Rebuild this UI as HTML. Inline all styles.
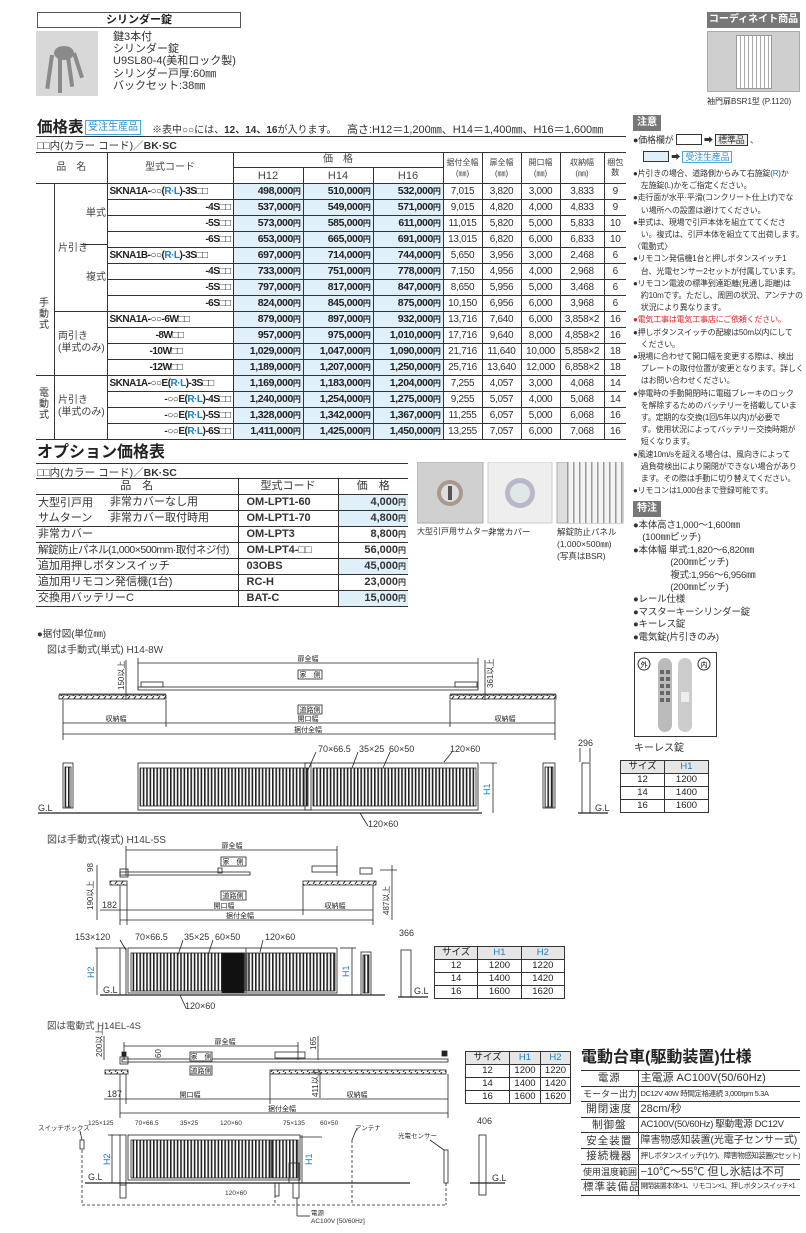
<!DOCTYPE html>
<html><head><meta charset="utf-8">
<style>
*{margin:0;padding:0;box-sizing:border-box}
body{width:806px;height:1233px;background:#fff;position:relative;overflow:hidden;font-family:"Liberation Sans","Noto Sans CJK JP",sans-serif;color:#222}
.a{position:absolute;white-space:nowrap}
table{border-collapse:collapse;table-layout:fixed;position:absolute}
td{padding:0 2px;white-space:nowrap;overflow:hidden}
#pt td{border-top:1px solid #333;border-bottom:1px solid #333;border-left:1px solid #333;height:15.65px;font-size:10px;line-height:14px}
#pt tr.h td{font-size:10px;text-align:center;color:#444;height:14px}
#pt .p{background:#dff0fb;text-align:right;font-weight:bold;letter-spacing:-.4px;font-size:10.5px}
#pt .c{text-align:right;font-weight:bold;letter-spacing:-.5px}
#pt .n{text-align:center;font-size:10px;color:#333;letter-spacing:-.3px}
.y{font-size:8px}
.b{color:#1a7fc8}
#ot td{border-top:1px solid #333;border-bottom:1px solid #333;height:16px;font-size:11px;line-height:15px;color:#333}
#ot .v{border-left:1px solid #333}
#ot .p{background:#dff0fb;text-align:right;font-weight:bold;font-size:11px}
#ot .w{text-align:right;font-weight:bold}
#ot .k{font-weight:bold;font-size:11px;padding-left:8px}
.sz td{border:1px solid #333;text-align:center;font-size:9.5px;height:13px;line-height:12px}
.sz .g{background:#e6e6e6}
#sp td{border-top:1px solid #333;border-bottom:1px solid #333;height:15.6px;font-size:10.5px;line-height:14px;color:#333}
#sp td:first-child{text-align:center;border-right:1px solid #333;letter-spacing:1px}
.nt{position:absolute;left:633px;font-size:8px;line-height:12.2px;color:#333;white-space:nowrap;letter-spacing:-.2px}
.hb{position:absolute;background:#777;color:#fff;font-size:10px;font-weight:bold;padding:1px 4px;line-height:14px}
</style></head><body>

<!-- top -->
<div class="a" style="left:37px;top:12px;width:204px;height:16px;border:1px solid #555;text-align:center;font-size:11px;font-weight:bold;line-height:14px">シリンダー錠</div>
<div class="a" style="left:36px;top:31px;width:62px;height:65px;background:#d8d8d8"></div>
<svg class="a" style="left:36px;top:31px" width="62" height="65"><g fill="#8a8a8a"><ellipse cx="28" cy="22" rx="10" ry="7"/><rect x="14" y="24" width="4" height="34" transform="rotate(8 16 24)"/><rect x="22" y="26" width="4" height="36"/><rect x="30" y="26" width="4" height="30" transform="rotate(-8 32 26)"/><rect x="36" y="22" width="4" height="26" transform="rotate(-18 38 22)"/></g></svg>
<div class="a" style="left:113px;top:31px;font-size:11px;line-height:12.2px;color:#333">鍵3本付<br>シリンダー錠<br>U9SL80-4(美和ロック製)<br>シリンダー戸厚:60㎜<br>バックセット:38㎜</div>
<div class="a" style="left:707px;top:12px;width:93px;height:16px;background:#777;color:#fff;font-size:10px;font-weight:bold;text-align:center;line-height:16px">コーディネイト商品</div>
<div class="a" style="left:707px;top:31px;width:93px;height:61px;background:#cfcfcf;border:1px solid #aaa"></div>
<div class="a" style="left:736px;top:35px;width:36px;height:54px;background:#eee;border:1px solid #999;background-image:repeating-linear-gradient(90deg,#fff 0 3px,#aaa 3px 4px)"></div>
<div class="a" style="left:707px;top:96px;font-size:8px;color:#333">袖門扉BSR1型 (P.1120)</div>

<!-- price title -->
<div class="a" style="left:37px;top:118px;font-size:15.5px;font-weight:bold;line-height:20px">価格表</div>
<div class="a" style="left:85px;top:120px;border:1px solid #4aa8de;color:#2a90d0;font-size:10px;padding:0 2px;line-height:13px">受注生産品</div>
<div class="a" style="left:152px;top:121px;font-size:10px;color:#333">※表中○○には、<b>12、14、16</b>が入ります。</div>
<div class="a" style="left:347px;top:121px;font-size:11px;color:#333">高さ:H12＝1,200㎜、H14＝1,400㎜、H16＝1,600㎜</div>
<div class="a" style="left:36px;top:136px;width:590px;border-top:1px solid #333"></div>
<div class="a" style="left:37px;top:138px;font-size:10.5px;color:#333">□□内(カラー コード)／<b>BK·SC</b></div>

<table id="pt" style="left:36px;top:152px;width:590px;border-top:1.5px solid #333">
<colgroup><col style="width:18px"><col style="width:53px"><col style="width:126px"><col style="width:70px"><col style="width:70px"><col style="width:70px"><col style="width:39px"><col style="width:39px"><col style="width:39px"><col style="width:44px"><col style="width:22px"></colgroup>
<tr class="h"><td colspan="2" rowspan="2" style="border-left:none">品　名</td><td rowspan="2">型式コード</td><td colspan="3">価　格</td><td rowspan="2" style="font-size:8px;line-height:11px">据付全幅<br>(㎜)</td><td rowspan="2" style="font-size:8px;line-height:11px">扉全幅<br>(㎜)</td><td rowspan="2" style="font-size:8px;line-height:11px">開口幅<br>(㎜)</td><td rowspan="2" style="font-size:8px;line-height:11px">収納幅<br>(㎜)</td><td rowspan="2" style="font-size:8px;line-height:10px;padding:0">梱包<br>数</td></tr>
<tr class="h"><td style="font-size:11px;height:16px">H12</td><td style="font-size:11px">H14</td><td style="font-size:11px">H16</td></tr>
<tr><td rowspan="12" style="border-left:none"></td><td rowspan="8"></td><td class="c" style="text-align:left">SKNA1A-○○(<span class="b">R·L</span>)-3S□□</td><td class="p">498,000<span class="y">円</span></td><td class="p">510,000<span class="y">円</span></td><td class="p">532,000<span class="y">円</span></td><td class="n">7,015</td><td class="n">3,820</td><td class="n">3,000</td><td class="n">3,833</td><td class="n">9</td></tr>
<tr><td class="c">-4S□□</td><td class="p">537,000<span class="y">円</span></td><td class="p">549,000<span class="y">円</span></td><td class="p">571,000<span class="y">円</span></td><td class="n">9,015</td><td class="n">4,820</td><td class="n">4,000</td><td class="n">4,833</td><td class="n">9</td></tr>
<tr><td class="c">-5S□□</td><td class="p">573,000<span class="y">円</span></td><td class="p">585,000<span class="y">円</span></td><td class="p">611,000<span class="y">円</span></td><td class="n">11,015</td><td class="n">5,820</td><td class="n">5,000</td><td class="n">5,833</td><td class="n">10</td></tr>
<tr><td class="c">-6S□□</td><td class="p">653,000<span class="y">円</span></td><td class="p">665,000<span class="y">円</span></td><td class="p">691,000<span class="y">円</span></td><td class="n">13,015</td><td class="n">6,820</td><td class="n">6,000</td><td class="n">6,833</td><td class="n">10</td></tr>
<tr><td class="c" style="text-align:left">SKNA1B-○○(<span class="b">R·L</span>)-3S□□</td><td class="p">697,000<span class="y">円</span></td><td class="p">714,000<span class="y">円</span></td><td class="p">744,000<span class="y">円</span></td><td class="n">5,650</td><td class="n">3,956</td><td class="n">3,000</td><td class="n">2,468</td><td class="n">6</td></tr>
<tr><td class="c">-4S□□</td><td class="p">733,000<span class="y">円</span></td><td class="p">751,000<span class="y">円</span></td><td class="p">778,000<span class="y">円</span></td><td class="n">7,150</td><td class="n">4,956</td><td class="n">4,000</td><td class="n">2,968</td><td class="n">6</td></tr>
<tr><td class="c">-5S□□</td><td class="p">797,000<span class="y">円</span></td><td class="p">817,000<span class="y">円</span></td><td class="p">847,000<span class="y">円</span></td><td class="n">8,650</td><td class="n">5,956</td><td class="n">5,000</td><td class="n">3,468</td><td class="n">6</td></tr>
<tr><td class="c">-6S□□</td><td class="p">824,000<span class="y">円</span></td><td class="p">845,000<span class="y">円</span></td><td class="p">875,000<span class="y">円</span></td><td class="n">10,150</td><td class="n">6,956</td><td class="n">6,000</td><td class="n">3,968</td><td class="n">6</td></tr>
<tr><td rowspan="4"></td><td class="c" style="text-align:left">SKNA1A-○○-6W□□</td><td class="p">879,000<span class="y">円</span></td><td class="p">897,000<span class="y">円</span></td><td class="p">932,000<span class="y">円</span></td><td class="n">13,716</td><td class="n">7,640</td><td class="n">6,000</td><td class="n">3,858×2</td><td class="n">16</td></tr>
<tr><td class="c" style="text-align:left;padding-left:48px">-8W□□</td><td class="p">957,000<span class="y">円</span></td><td class="p">975,000<span class="y">円</span></td><td class="p">1,010,000<span class="y">円</span></td><td class="n">17,716</td><td class="n">9,640</td><td class="n">8,000</td><td class="n">4,858×2</td><td class="n">16</td></tr>
<tr><td class="c" style="text-align:left;padding-left:42px">-10W□□</td><td class="p">1,029,000<span class="y">円</span></td><td class="p">1,047,000<span class="y">円</span></td><td class="p">1,090,000<span class="y">円</span></td><td class="n">21,716</td><td class="n">11,640</td><td class="n">10,000</td><td class="n">5,858×2</td><td class="n">18</td></tr>
<tr><td class="c" style="text-align:left;padding-left:42px">-12W□□</td><td class="p">1,189,000<span class="y">円</span></td><td class="p">1,207,000<span class="y">円</span></td><td class="p">1,250,000<span class="y">円</span></td><td class="n">25,716</td><td class="n">13,640</td><td class="n">12,000</td><td class="n">6,858×2</td><td class="n">18</td></tr>
<tr><td rowspan="4" style="border-left:none"></td><td rowspan="4"></td><td class="c" style="text-align:left">SKNA1A-○○E(<span class="b">R·L</span>)-3S□□</td><td class="p">1,169,000<span class="y">円</span></td><td class="p">1,183,000<span class="y">円</span></td><td class="p">1,204,000<span class="y">円</span></td><td class="n">7,255</td><td class="n">4,057</td><td class="n">3,000</td><td class="n">4,068</td><td class="n">14</td></tr>
<tr><td class="c">-○○E(<span class="b">R·L</span>)-4S□□</td><td class="p">1,240,000<span class="y">円</span></td><td class="p">1,254,000<span class="y">円</span></td><td class="p">1,275,000<span class="y">円</span></td><td class="n">9,255</td><td class="n">5,057</td><td class="n">4,000</td><td class="n">5,068</td><td class="n">14</td></tr>
<tr><td class="c">-○○E(<span class="b">R·L</span>)-5S□□</td><td class="p">1,328,000<span class="y">円</span></td><td class="p">1,342,000<span class="y">円</span></td><td class="p">1,367,000<span class="y">円</span></td><td class="n">11,255</td><td class="n">6,057</td><td class="n">5,000</td><td class="n">6,068</td><td class="n">16</td></tr>
<tr><td class="c">-○○E(<span class="b">R·L</span>)-6S□□</td><td class="p">1,411,000<span class="y">円</span></td><td class="p">1,425,000<span class="y">円</span></td><td class="p">1,450,000<span class="y">円</span></td><td class="n">13,255</td><td class="n">7,057</td><td class="n">6,000</td><td class="n">7,068</td><td class="n">16</td></tr>
</table>
<div class="a" style="left:39px;top:298px;font-size:10px;line-height:11px;color:#333;width:12px;white-space:normal">手動式</div>
<div class="a" style="left:39px;top:388px;font-size:10px;line-height:11px;color:#333;width:12px;white-space:normal">電動式</div>
<div class="a" style="left:58px;top:239px;font-size:10px;color:#444">片引き</div>
<div class="a" style="left:81px;top:244px;width:26px;border-top:1px solid #333"></div>
<div class="a" style="left:86px;top:204px;font-size:10px;color:#444">単式</div>
<div class="a" style="left:86px;top:268px;font-size:10px;color:#444">複式</div>
<div class="a" style="left:58px;top:331px;font-size:10px;line-height:12px;color:#444">両引き<br>(単式のみ)</div>
<div class="a" style="left:58px;top:395px;font-size:10px;line-height:12px;color:#444">片引き<br>(単式のみ)</div>

<!-- options -->
<div class="a" style="left:37px;top:443px;font-size:16px;font-weight:bold;line-height:20px">オプション価格表</div>
<div class="a" style="left:36px;top:463px;width:372px;border-top:1px solid #333"></div>
<div class="a" style="left:37px;top:465px;font-size:10.5px;color:#333">□□内(カラー コード)／<b>BK·SC</b></div>
<table id="ot" style="left:36px;top:478px;width:372px">
<colgroup><col style="width:72px"><col style="width:130px"><col style="width:100px"><col style="width:70px"></colgroup>
<tr><td colspan="2" style="text-align:center;height:15px">品　名</td><td class="v" style="text-align:center">型式コード</td><td class="v" style="text-align:center">価　格</td></tr>
<tr><td rowspan="2" style="line-height:15px">大型引戸用<br>サムターン</td><td>非常カバーなし用</td><td class="v k">OM-LPT1-60</td><td class="v p">4,000<span class="y">円</span></td></tr>
<tr><td>非常カバー取付時用</td><td class="v k">OM-LPT1-70</td><td class="v p">4,800<span class="y">円</span></td></tr>
<tr><td colspan="2">非常カバー</td><td class="v k">OM-LPT3</td><td class="v w">8,800<span class="y">円</span></td></tr>
<tr><td colspan="2" style="letter-spacing:-.5px;font-size:10.5px">解錠防止パネル(1,000×500mm·取付ネジ付)</td><td class="v k">OM-LPT4-□□</td><td class="v w">56,000<span class="y">円</span></td></tr>
<tr><td colspan="2">追加用押しボタンスイッチ</td><td class="v k">03OBS</td><td class="v p">45,000<span class="y">円</span></td></tr>
<tr><td colspan="2">追加用リモコン発信機(1台)</td><td class="v k">RC-H</td><td class="v w">23,000<span class="y">円</span></td></tr>
<tr><td colspan="2">交換用バッテリーC</td><td class="v k">BAT-C</td><td class="v p">15,000<span class="y">円</span></td></tr>
</table>
<svg class="a" style="left:417px;top:462px" width="210" height="62">
<rect x="0" y="0" width="66" height="61" fill="#d0d0d0" stroke="#aaa"/><circle cx="33" cy="31" r="13" fill="#a89890"/><circle cx="33" cy="31" r="9" fill="#ddd"/><rect x="31" y="24" width="4" height="14" fill="#555"/>
<rect x="71" y="0" width="64" height="61" fill="#eee" stroke="#ccc"/><circle cx="103" cy="31" r="15" fill="#b8b8c8"/><circle cx="103" cy="31" r="10" fill="#dfe8e8"/>
<rect x="140" y="0" width="66" height="61" fill="#ddd" stroke="#aaa"/><rect x="150" y="0" width="56" height="61" fill="url(#vb)"/>
<defs><pattern id="vb" width="6" height="10" patternUnits="userSpaceOnUse"><rect width="6" height="10" fill="#f4f4f4"/><rect width="1.5" height="10" fill="#999"/></pattern></defs>
</svg>
<div class="a" style="left:417px;top:526px;font-size:8px;color:#333">大型引戸用サムターン</div>
<div class="a" style="left:488px;top:526px;font-size:8.5px;color:#333">非常カバー</div>
<div class="a" style="left:557px;top:526px;font-size:8.5px;line-height:12px;color:#333">解錠防止パネル<br>(1,000×500㎜)<br>(写真はBSR)</div>

<!-- notes -->
<div class="hb" style="left:633px;top:115px">注意</div>
<div class="nt" style="top:133px;font-size:9px;line-height:14px">●価格欄が <span style="display:inline-block;width:26px;height:11px;border:1px solid #333;vertical-align:-2px"></span> ➡ <span style="border:1px solid #333;background:#eee;padding:0 2px">標準品</span> 、</div>
<div class="nt" style="top:150px;left:643px;font-size:9px;line-height:14px"><span style="display:inline-block;width:26px;height:11px;border:1px solid #333;background:#dff0fb;vertical-align:-2px"></span> ➡ <span style="border:1px solid #4aa8de;color:#2a90d0;padding:0 2px">受注生産品</span></div>
<div class="nt" style="top:168px">●片引きの場合、道路側からみて右施錠(<span class="b">R</span>)か<br>　左施錠(<span class="b">L</span>)かをご指定ください。<br>●走行面が水平·平滑(コンクリート仕上げ)でな<br>　い場所への設置は避けてください。<br>●単式は、現場で引戸本体を組立ててくださ<br>　い。複式は、引戸本体を組立てて出荷します。<br>〈電動式〉<br>●リモコン発信機1台と押しボタンスイッチ1<br>　台、光電センサー2セットが付属しています。<br>●リモコン電波の標準到達距離(見通し距離)は<br>　約10mです。ただし、周囲の状況、アンテナの<br>　状況により異なります。<br><span style="color:#e0242a">●電気工事は電気工事店にご依頼ください。</span><br>●押しボタンスイッチの配線は50m以内にして<br>　ください。<br>●現場に合わせて開口幅を変更する際は、検出<br>　プレートの取付位置が変更となります。詳しく<br>　はお問い合わせください。<br>●停電時の手動開閉時に電磁ブレーキのロック<br>　を解除するためのバッテリーを搭載していま<br>　す。定期的な交換(1回/5年以内)が必要で<br>　す。使用状況によってバッテリー交換時期が<br>　短くなります。<br>●風速10m/sを超える場合は、風向きによって<br>　過負荷検出により開閉ができない場合があり<br>　ます。その際は手動に切り替えてください。<br>●リモコンは1,000台まで登録可能です。</div>
<div class="hb" style="left:633px;top:501px">特注</div>
<div class="nt" style="top:520px;font-size:9.5px;line-height:12.4px">●本体高さ1,000〜1,600㎜<br>　(100㎜ピッチ)<br>●本体幅 単式:1,820〜6,820㎜<br>　　　　(200㎜ピッチ)<br>　　　　複式:1,956〜6,956㎜<br>　　　　(200㎜ピッチ)<br>●レール仕様<br>●マスターキーシリンダー錠<br>●キーレス錠<br>●電気錠(片引きのみ)</div>
<div class="a" style="left:634px;top:652px;width:83px;height:85px;border:1px solid #333"></div>
<svg class="a" style="left:634px;top:652px" width="83" height="85"><circle cx="10" cy="12" r="6" fill="#fff" stroke="#333"/><text x="10" y="15" font-size="7" text-anchor="middle">外</text><circle cx="70" cy="12" r="6" fill="#fff" stroke="#333"/><text x="70" y="15" font-size="7" text-anchor="middle">内</text><rect x="24" y="6" width="14" height="74" rx="7" fill="#bbb"/><rect x="44" y="6" width="14" height="74" rx="7" fill="#ccc"/><g fill="#666"><rect x="26" y="18" width="4" height="4"/><rect x="32" y="18" width="4" height="4"/><rect x="26" y="25" width="4" height="4"/><rect x="32" y="25" width="4" height="4"/><rect x="26" y="32" width="4" height="4"/><rect x="32" y="32" width="4" height="4"/><rect x="26" y="39" width="4" height="4"/><rect x="32" y="39" width="4" height="4"/><rect x="26" y="46" width="4" height="4"/><rect x="32" y="46" width="4" height="4"/></g><rect x="47" y="40" width="8" height="10" fill="#eee"/></svg>
<div class="a" style="left:634px;top:739px;font-size:10px;color:#333">キーレス錠</div>
<table class="sz" style="left:620px;top:760px;width:89px"><tr><td class="g">サイズ</td><td class="g b">H1</td></tr><tr><td>12</td><td>1200</td></tr><tr><td>14</td><td>1400</td></tr><tr><td>16</td><td>1600</td></tr></table>

<div class="a" style="left:37px;top:626px;font-size:9.5px;color:#333">●据付図(単位㎜)</div>
<div class="a" style="left:47px;top:641px;font-size:10px;color:#444">図は手動式(単式) H14-8W</div>
<div class="a" style="left:47px;top:831px;font-size:10px;color:#444">図は手動式(複式) H14L-5S</div>
<div class="a" style="left:47px;top:1018px;font-size:9.5px;color:#444">図は電動式 H14EL-4S</div>

<table class="sz" style="left:434px;top:946px;width:131px"><tr><td class="g">サイズ</td><td class="g b">H1</td><td class="g b">H2</td></tr><tr><td>12</td><td>1200</td><td>1220</td></tr><tr><td>14</td><td>1400</td><td>1420</td></tr><tr><td>16</td><td>1600</td><td>1620</td></tr></table>
<table class="sz" style="left:465px;top:1051px;width:105px"><colgroup><col style="width:44px"><col style="width:31px"><col style="width:30px"></colgroup><tr><td class="g">サイズ</td><td class="g b">H1</td><td class="g b">H2</td></tr><tr><td>12</td><td>1200</td><td>1220</td></tr><tr><td>14</td><td>1400</td><td>1420</td></tr><tr><td>16</td><td>1600</td><td>1620</td></tr></table>

<div class="a" style="left:581px;top:1048px;font-size:16px;font-weight:bold;line-height:20px">電動台車(駆動装置)仕様</div>
<table id="sp" style="left:581px;top:1070px;width:219px">
<colgroup><col style="width:57px"><col style="width:162px"></colgroup>
<tr><td>電源</td><td style="font-size:11px">主電源 AC100V(50/60Hz)</td></tr>
<tr><td style="font-size:9px;letter-spacing:0">モーター出力</td><td style="font-size:7.5px;letter-spacing:-.4px">DC12V 40W 時間定格連続 3,000rpm 5.3A</td></tr>
<tr><td>開閉速度</td><td style="font-size:11px">28cm/秒</td></tr>
<tr><td>制御盤</td><td style="font-size:9.5px;letter-spacing:-.3px">AC100V(50/60Hz) 駆動電源 DC12V</td></tr>
<tr><td>安全装置</td><td style="font-size:10px">障害物感知装置(光電子センサー式)</td></tr>
<tr><td>接続機器</td><td style="font-size:7.5px;letter-spacing:-.6px">押しボタンスイッチ(1ケ)、障害物感知装置(2セット)</td></tr>
<tr><td style="font-size:9px;letter-spacing:0">使用温度範囲</td><td style="font-size:11px">−10℃〜55℃ 但し氷結は不可</td></tr>
<tr><td>標準装備品</td><td style="font-size:7px;letter-spacing:-.6px">開閉装置本体×1、リモコン×1、押しボタンスイッチ×1</td></tr>
</table>

<!-- drawings -->
<svg class="a" style="left:0;top:0" width="806" height="1233" font-family="Liberation Sans,Noto Sans CJK JP,sans-serif">
<defs>
<pattern id="bars" width="3.4" height="10" patternUnits="userSpaceOnUse"><rect width="3.4" height="10" fill="#fff"/><rect width="1.6" height="10" fill="#222"/></pattern>
<pattern id="hat" width="6" height="4" patternUnits="userSpaceOnUse"><rect width="6" height="4" fill="#fff"/><path d="M1 4 L4 0" stroke="#222" stroke-width="1"/></pattern>
</defs>
<g stroke="#222" stroke-width="0.8" fill="none">
<line x1="138" y1="663" x2="478" y2="663"/><line x1="138" y1="658" x2="138" y2="690"/><line x1="478" y1="658" x2="478" y2="690"/>
<rect x="138" y="687" width="340" height="3"/><rect x="141" y="682" width="22" height="5"/><rect x="455" y="682" width="22" height="5"/>
<rect x="59" y="695" width="107" height="4" fill="url(#hat)"/><rect x="450" y="695" width="106" height="4" fill="url(#hat)"/>
<line x1="59" y1="694" x2="166" y2="694"/><line x1="450" y1="694" x2="556" y2="694"/>
<line x1="126" y1="660" x2="126" y2="700"/><line x1="485" y1="660" x2="485" y2="700"/>
<line x1="63" y1="700" x2="63" y2="740"/><line x1="166" y1="700" x2="166" y2="727"/><line x1="450" y1="700" x2="450" y2="727"/><line x1="555" y1="700" x2="555" y2="740"/>
<line x1="63" y1="723" x2="555" y2="723"/><line x1="63" y1="734" x2="555" y2="734"/>
<rect x="63" y="763" width="10" height="45"/><rect x="543" y="763" width="12" height="45"/>
<rect x="138" y="763" width="340" height="47"/><rect x="140" y="768" width="168" height="38" fill="url(#bars)"/><rect x="313" y="768" width="163" height="38" fill="url(#bars)"/><rect x="65" y="767" width="6" height="40" fill="url(#bars)"/><rect x="545" y="767" width="8" height="40" fill="url(#bars)"/>
<rect x="305" y="763" width="6" height="47"/>
<line x1="38" y1="813" x2="482" y2="813" stroke-width="1.2"/>
<line x1="480" y1="763" x2="497" y2="763"/><line x1="493" y1="763" x2="493" y2="813"/>
<line x1="316" y1="752" x2="308" y2="770"/><line x1="358" y1="752" x2="352" y2="768"/><line x1="390" y1="752" x2="383" y2="768"/><line x1="452" y1="752" x2="444" y2="762"/><line x1="360" y1="813" x2="368" y2="826"/>
<rect x="582" y="763" width="8" height="50"/><line x1="578" y1="813" x2="608" y2="813" stroke-width="1.2"/><line x1="580" y1="748" x2="580" y2="762"/><line x1="590" y1="748" x2="590" y2="762"/>
<line x1="126" y1="850" x2="337" y2="850"/><line x1="126" y1="846" x2="126" y2="876"/><line x1="337" y1="846" x2="337" y2="876"/>
<rect x="120" y="872" width="130" height="3"/><rect x="120" y="869" width="8" height="8"/><rect x="218" y="868" width="4" height="5"/><rect x="312" y="866" width="25" height="6"/><rect x="360" y="868" width="12" height="6"/>
<rect x="110" y="881" width="17" height="4" fill="url(#hat)"/><rect x="303" y="881" width="73" height="4" fill="url(#hat)"/>
<line x1="97" y1="865" x2="97" y2="920"/><line x1="392" y1="865" x2="392" y2="920"/><line x1="380" y1="870" x2="397" y2="870"/>
<line x1="127" y1="885" x2="127" y2="925"/><line x1="303" y1="885" x2="303" y2="915"/><line x1="373" y1="885" x2="373" y2="925"/><line x1="120" y1="885" x2="120" y2="925"/>
<line x1="100" y1="910" x2="373" y2="910"/><line x1="120" y1="920" x2="373" y2="920"/>
<rect x="120" y="948" width="6" height="47"/><rect x="128" y="948" width="209" height="45"/><rect x="131" y="953" width="114" height="38" fill="url(#bars)"/><rect x="222" y="953" width="22" height="40" fill="#111"/><rect x="247" y="953" width="88" height="38" fill="url(#bars)"/><line x1="246" y1="948" x2="246" y2="993"/>
<rect x="361" y="952" width="10" height="43"/><rect x="363" y="955" width="6" height="38" fill="url(#bars)"/>
<line x1="95" y1="948" x2="120" y2="948"/><line x1="97" y1="948" x2="97" y2="995"/><line x1="340" y1="948" x2="356" y2="948"/><line x1="352" y1="948" x2="352" y2="995"/>
<line x1="100" y1="995" x2="385" y2="995" stroke-width="1.2"/>
<line x1="120" y1="940" x2="126" y2="950"/><line x1="183" y1="940" x2="178" y2="955"/><line x1="213" y1="940" x2="208" y2="955"/><line x1="263" y1="940" x2="260" y2="952"/><line x1="180" y1="995" x2="186" y2="1008"/>
<rect x="401" y="950" width="10" height="47"/><line x1="398" y1="997" x2="428" y2="997" stroke-width="1.2"/>
<line x1="124" y1="1046" x2="298" y2="1046"/><line x1="124" y1="1042" x2="124" y2="1060"/><line x1="298" y1="1042" x2="298" y2="1060"/>
<rect x="122" y="1059" width="326" height="3"/><rect x="120" y="1057" width="8" height="7"/><rect x="275" y="1052" width="30" height="6"/><rect x="442" y="1051" width="5" height="5" fill="#222"/><rect x="122" y="1052" width="4" height="4" fill="#222"/>
<rect x="105" y="1070" width="23" height="4" fill="url(#hat)"/><rect x="270" y="1070" width="176" height="4" fill="url(#hat)"/>
<line x1="104" y1="1036" x2="104" y2="1060"/><line x1="318" y1="1036" x2="318" y2="1060"/><line x1="320" y1="1072" x2="320" y2="1098"/>
<line x1="120" y1="1074" x2="120" y2="1118"/><line x1="270" y1="1074" x2="270" y2="1104"/><line x1="448" y1="1074" x2="448" y2="1118"/><line x1="126" y1="1074" x2="126" y2="1104"/>
<line x1="104" y1="1099" x2="448" y2="1099"/><line x1="120" y1="1113" x2="448" y2="1113"/>
<rect x="120" y="1135" width="6" height="50"/><rect x="128" y="1135" width="172" height="45"/><rect x="131" y="1140" width="140" height="38" fill="url(#bars)"/><rect x="272" y="1140" width="26" height="38" fill="url(#bars)"/>
<line x1="300" y1="1137" x2="322" y2="1137"/><rect x="289" y="1163" width="10" height="20"/>
<line x1="85" y1="1183" x2="410" y2="1183" stroke-width="1.2"/>
<rect x="80" y="1140" width="4" height="9"/><rect x="444" y="1150" width="4" height="33"/>
<line x1="82" y1="1150" x2="82" y2="1205" stroke-dasharray="3,2"/><line x1="82" y1="1205" x2="446" y2="1205" stroke-dasharray="3,2"/><line x1="446" y1="1183" x2="446" y2="1205" stroke-dasharray="3,2"/><line x1="352" y1="1140" x2="352" y2="1205" stroke-dasharray="3,2"/><line x1="275" y1="1185" x2="275" y2="1205" stroke-dasharray="3,2"/>
<rect x="120" y="1183" width="6" height="15"/><rect x="275" y="1183" width="4" height="13"/><rect x="293" y="1183" width="6" height="15"/>
<line x1="297" y1="1198" x2="297" y2="1216"/><line x1="297" y1="1216" x2="310" y2="1216"/>
<line x1="108" y1="1135" x2="120" y2="1135"/><line x1="112" y1="1135" x2="112" y2="1183"/><line x1="302" y1="1135" x2="302" y2="1183"/>
<line x1="80" y1="1131" x2="82" y2="1140"/><line x1="430" y1="1140" x2="444" y2="1150"/><line x1="357" y1="1128" x2="352" y2="1140"/>
<rect x="479" y="1135" width="7" height="60"/><line x1="470" y1="1183" x2="505" y2="1183" stroke-width="1.2"/>
</g>
<g font-size="7" fill="#222" text-anchor="middle">
<text x="308" y="661">扉全幅</text><rect x="298" y="670" width="24" height="9" fill="#fff" stroke="#222" stroke-width=".8"/><text x="310" y="677">家　側</text>
<rect x="298" y="705" width="24" height="9" fill="#fff" stroke="#222" stroke-width=".8"/><text x="310" y="712">道路側</text>
<text x="116" y="721">収納幅</text><text x="308" y="721">開口幅</text><text x="505" y="721">収納幅</text><text x="308" y="732">据付全幅</text>
<text x="232" y="848">扉全幅</text><rect x="221" y="857" width="25" height="9" fill="#fff" stroke="#222" stroke-width=".8"/><text x="233" y="864">家　側</text>
<rect x="221" y="891" width="25" height="9" fill="#fff" stroke="#222" stroke-width=".8"/><text x="233" y="898">道路側</text>
<text x="224" y="908">開口幅</text><text x="335" y="908">収納幅</text><text x="240" y="918">据付全幅</text>
<text x="225" y="1044">扉全幅</text><rect x="190" y="1052" width="22" height="9" fill="#fff" stroke="#222" stroke-width=".8"/><text x="201" y="1059">家　側</text>
<rect x="190" y="1066" width="22" height="9" fill="#fff" stroke="#222" stroke-width=".8"/><text x="201" y="1073">道路側</text>
<text x="190" y="1097">開口幅</text><text x="357" y="1097">収納幅</text><text x="282" y="1111">据付全幅</text>
</g>
<g font-size="9" fill="#333">
<text x="318" y="752">70×66.5</text><text x="359" y="752">35×25</text><text x="389" y="752">60×50</text><text x="450" y="752">120×60</text><text x="368" y="827">120×60</text>
<text x="38" y="811">G.L</text><text x="595" y="811">G.L</text><text x="578" y="746">296</text>
<text x="75" y="940">153×120</text><text x="135" y="940">70×66.5</text><text x="184" y="940">35×25</text><text x="215" y="940">60×50</text><text x="265" y="940">120×60</text><text x="185" y="1009">120×60</text>
<text x="103" y="993">G.L</text><text x="414" y="994">G.L</text><text x="399" y="936">366</text><text x="102" y="908">182</text>
<text x="107" y="1097">187</text><text x="88" y="1180">G.L</text><text x="492" y="1181">G.L</text><text x="477" y="1124">406</text>
</g>
<g font-size="6.5" fill="#333">
<text x="88" y="1125">125×125</text><text x="135" y="1125">70×66.5</text><text x="180" y="1125">35×25</text><text x="220" y="1125">120×60</text><text x="283" y="1125">75×135</text><text x="320" y="1125">60×50</text><text x="225" y="1195">120×60</text>
<text x="38" y="1130">スイッチボックス</text><text x="355" y="1130">アンテナ</text><text x="398" y="1138">光電センサー</text>
<text x="311" y="1215">電源</text><text x="311" y="1223">AC100V [50/60Hz]</text>
</g>
<g font-size="8" fill="#333">
<text transform="translate(124,690) rotate(-90)">150以上</text><text transform="translate(493,688) rotate(-90)">361以上</text>
<text transform="translate(93,872) rotate(-90)">98</text><text transform="translate(93,910) rotate(-90)">190以上</text><text transform="translate(389,915) rotate(-90)">487以上</text>
<text transform="translate(102,1057) rotate(-90)">200以上</text><text transform="translate(316,1050) rotate(-90)">165</text><text transform="translate(318,1097) rotate(-90)">411以上</text><text transform="translate(161,1058) rotate(-90)">60</text>
</g>
<g font-size="9" fill="#1a7fc8">
<text transform="translate(490,795) rotate(-90)">H1</text><text transform="translate(94,978) rotate(-90)">H2</text><text transform="translate(349,977) rotate(-90)">H1</text>
<text transform="translate(110,1165) rotate(-90)">H2</text><text transform="translate(312,1165) rotate(-90)">H1</text>
</g>
</svg>
</body></html>
